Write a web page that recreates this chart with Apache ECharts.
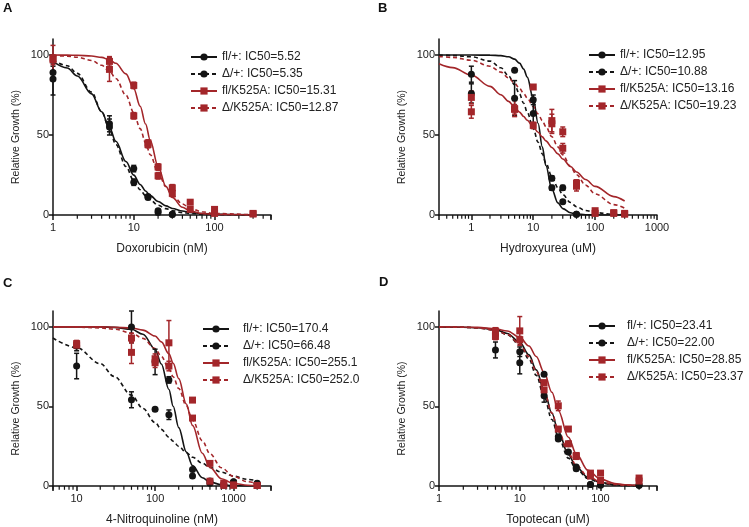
<!DOCTYPE html>
<html><head><meta charset="utf-8">
<script src="https://cdn.jsdelivr.net/npm/echarts@6/dist/echarts.min.js"></script>
<style>html,body{margin:0;padding:0;background:#fff}#c{width:749px;height:527px}</style>
</head><body><div id="c"></div><script>
// ---------- tick values ----------
const A_majorTicks = [1, 10, 100];
const A_minorTicks = [2,3,4,5,6,7,8,9,20,30,40,50,60,70,80,90,200,300,400,500];
const B_majorTicks = [1, 10, 100, 1000];
const B_minorTicks = [0.4,0.5,0.6,0.7,0.8,0.9,2,3,4,5,6,7,8,9,20,30,40,50,60,70,80,90,200,300,400,500,600,700,800,900];
const C_majorTicks = [10, 100, 1000];
const C_minorTicks = [5,6,7,8,9,20,30,40,50,60,70,80,90,200,300,400,500,600,700,800,900,2000,3000];
const D_majorTicks = [1, 10, 100];
const D_minorTicks = [2,3,4,5,6,7,8,9,20,30,40,50,60,70,80,90,200,300,400,500];
const yTicks = [0, 50, 100];

// ---------- legend names ----------
const A_names = ['fl/+: IC50=5.52', 'Δ/+: IC50=5.35', 'fl/K525A: IC50=15.31', 'Δ/K525A: IC50=12.87'];
const B_names = ['fl/+: IC50=12.95', 'Δ/+: IC50=10.88', 'fl/K525A: IC50=13.16', 'Δ/K525A: IC50=19.23'];
const C_names = ['fl/+: IC50=170.4', 'Δ/+: IC50=66.48', 'fl/K525A: IC50=255.1', 'Δ/K525A: IC50=252.0'];
const D_names = ['fl/+: IC50=23.41', 'Δ/+: IC50=22.00', 'fl/K525A: IC50=28.85', 'Δ/K525A: IC50=23.37'];

// ---------- Panel A: Doxorubicin ----------
const A_curveX = [1, 1.5, 2, 3, 4, 5, 6, 8, 10, 12, 14, 16, 20, 25, 30, 40, 50, 70, 100, 300];
const A_flWT_curve  = [96, 91.9, 86.9, 75.7, 64.5, 54.6, 46.1, 33.4, 24.9, 19.1, 15.0, 12.1, 8.4, 5.7, 4.1, 2.5, 1.6, 0.9, 0.45, 0.06];
const A_dWT_curve   = [97, 93.3, 88.5, 76.8, 64.6, 53.5, 44.1, 30.3, 21.5, 15.8, 12.0, 9.4, 6.1, 4.0, 2.7, 1.5, 1.0, 0.5, 0.23, 0.02];
const A_flKA_curve  = [100, 99.9, 99.8, 99.4, 98.5, 97, 94.8, 88.2, 78.9, 68.0, 56.9, 46.6, 30.4, 17.9, 11.0, 4.85, 2.5, 0.9, 0.3, 0];
const A_dKA_curve   = [99.7, 99.3, 98.6, 96.6, 93.6, 89.8, 85.3, 74.9, 64, 54.0, 45.2, 37.7, 26.6, 17.8, 12.5, 6.9, 4.2, 2.0, 0.9, 0.07];
const A_wtX   = [1, 5, 10, 15, 20, 30];
const A_flWT_y   = [89, 57, 29, 11.5, 2.7, 0.5];
const A_flWT_err = [4, 5, 2, 1, 1, 0.5];
const A_dWT_y    = [85, 55, 20.5, 11, 1.5, 0.3];
const A_dWT_err  = [10, 5, 2, 1, 1, 0.3];
const A_kaX   = [1, 5, 10, 15, 20, 30, 50, 100, 300];
const A_flKA_y   = [98, 96, 81, 45, 30, 17, 8, 3.5, 1];
const A_flKA_err = [8, 3, 2, 2, 2, 2, 1, 1, 0.5];
const A_dKA_y    = [97, 91, 62, 44, 24.5, 13.5, 3.5, 1, 0.6];
const A_dKA_err  = [3, 7.5, 2, 2, 2, 2, 1, 0.5, 0.5];

// ---------- Panel B: Hydroxyurea ----------
const B_curveX = [0.3, 0.5, 1, 2, 3, 4, 5, 6, 7, 8, 10, 12, 14, 16, 20, 25, 30, 40, 50, 70, 100, 200, 300];
const B_flWT_curve = [100, 100, 100, 99.9, 99.6, 98.9, 97.4, 94.9, 91.2, 86.2, 72.8, 57.2, 42.7, 30.9, 16.1, 7.6, 4.0, 1.4, 0.6, 0.16, 0.04, 0, 0];
const B_dWT_curve  = [99.9, 99.7, 98.9, 96.2, 92.0, 87.0, 81.4, 75.6, 69.8, 64.2, 54.0, 45.4, 38.3, 32.5, 23.9, 17.1, 12.7, 7.8, 5.2, 2.8, 1.5, 0.4, 0.2];
const B_flKA_curve = [94.5, 92.1, 87.4, 80.4, 75.2, 71.0, 67.4, 64.3, 61.6, 59.2, 55.1, 51.7, 48.8, 46.3, 42.2, 38.2, 35.0, 30.3, 26.9, 22.2, 17.9, 11.5, 8.75];
const B_dKA_curve  = [99.1, 98.5, 96.7, 93.0, 89.3, 85.7, 82.3, 79.1, 76.0, 73.1, 67.8, 63.1, 59.0, 55.2, 48.9, 42.6, 37.6, 30.3, 25.2, 18.7, 13.2, 6.5, 4.2];
const B_wtX = [1, 5, 10, 20, 30, 50];
const B_flWT_y   = [88, 90.5, 72, 17, 8.3, 0.5];
const B_flWT_err = [5, 1, 3, 1.5, 1, 0.5];
const B_dWT_y    = [76, 73, 63.5, 23, 17, 0.5];
const B_dWT_err  = [6, 11, 7, 1.5, 1.5, 0.5];
const B_kaX = [1, 5, 10, 20, 30, 50, 100, 200, 300];
const B_flKA_y   = [73.5, 66.5, 56, 57, 41.7, 18, 2.7, 1.5, 1];
const B_flKA_err = [4, 5, 2, 6, 3, 3, 1, 0.5, 0.5];
const B_dKA_y    = [64.5, 66, 80, 59, 52, 20, 1, 1, 0.5];
const B_dKA_err  = [4, 3, 1, 7, 3, 2, 0.5, 0.5, 0.5];

// ---------- Panel C: 4-Nitroquinoline ----------
const C_curveX = [5, 10, 20, 30, 50, 70, 100, 120, 150, 170, 200, 250, 300, 400, 500, 700, 1000, 1500, 2000];
const C_flWT_curve = [100, 100, 100, 99.7, 98.5, 95.4, 86.0, 76.7, 60.7, 50.1, 36.7, 21.4, 12.8, 5.2, 2.5, 0.8, 0.2, 0.05, 0];
const C_dWT_curve  = [93.0, 86.9, 76.9, 68.9, 57.1, 48.7, 39.9, 35.6, 30.7, 28.1, 24.9, 21.0, 18.1, 14.3, 11.7, 8.7, 6.2, 4.2, 3.2];
const C_flKA_curve = [100, 100, 100, 99.8, 99.3, 98.0, 94.3, 90.6, 83.1, 77.2, 67.5, 51.5, 38.1, 20.6, 11.7, 4.6, 1.6, 0.5, 0.2];
const C_dKA_curve  = [100, 99.8, 99.4, 98.6, 96.2, 92.8, 86.4, 81.5, 73.8, 68.7, 61.3, 50.4, 41.4, 28.4, 20.3, 11.5, 6.0, 2.7, 1.6];
const C_ptX = [10, 50, 100, 150, 300, 500, 750, 1000, 2000];
const C_flWT_y   = [88, 100, 78, 66.7, 10.4, 3.1, 0.8, 2.7, 1.7];
const C_flWT_err = [3, 10, 8, 2, 1, 1, 0.5, 0.5, 0.5];
const C_dWT_y    = [75.4, 54.2, 48.3, 44.8, 6.25, 1.7, 0.5, 2.5, 1.5];
const C_dWT_err  = [8, 5, 1, 3, 1, 0.5, 0.5, 0.5, 0.5];
const C_flKA_y   = [89.5, 93, 80, 90, 54, 14.2, 1.7, 0.6, 0.3];
const C_flKA_err = [2, 3, 3, 14, 1, 1, 0.5, 0.5, 0.3];
const C_dKA_y    = [88.5, 84, 77.5, 75.4, 42.7, 3, 0.4, 0.5, 0.3];
const C_dKA_err  = [2, 7, 3, 3, 1, 0.5, 0.4, 0.5, 0.3];

// ---------- Panel D: Topotecan ----------
const D_curveX = [1, 2, 3, 5, 7, 10, 13, 16, 20, 25, 30, 40, 50, 70, 100, 150, 200, 300];
const D_flWT_curve = [100, 99.8, 99.5, 98.3, 95.9, 90.3, 82.4, 73.0, 60.2, 45.7, 34.3, 19.7, 12.0, 5.4, 2.2, 0.8, 0.4, 0.1];
const D_dWT_curve  = [100, 99.8, 99.4, 97.9, 95.2, 88.6, 79.7, 69.6, 56.2, 41.8, 30.9, 17.5, 10.6, 4.7, 1.9, 0.7, 0.3, 0.1];
const D_flKA_curve = [100, 99.9, 99.7, 98.8, 97.4, 93.4, 88.0, 81.4, 71.4, 58.9, 47.5, 30.6, 20.2, 9.8, 4.3, 1.6, 0.8, 0.3];
const D_dKA_curve  = [100, 99.8, 99.4, 97.9, 95.3, 89.3, 81.2, 72.0, 59.6, 45.8, 34.9, 20.7, 13.0, 6.1, 2.6, 1.0, 0.5, 0.2];
const D_ptX = [5, 10, 20, 30, 40, 50, 75, 100, 300];
const D_flWT_y   = [95, 84.4, 70.2, 31, 26.5, 11.9, 1, 1, 0.4];
const D_flWT_err = [2, 3, 1, 1, 1, 1, 0.5, 0.5, 0.4];
const D_dWT_y    = [85.5, 77.5, 56.7, 29.6, 21.3, 10.8, 1, 0.4, 0.4];
const D_dWT_err  = [5, 7, 4, 1, 1, 1, 0.5, 0.4, 0.4];
const D_flKA_y   = [97.5, 97.5, 65, 50.4, 35.8, 19.2, 8.1, 8.1, 5];
const D_flKA_err = [2, 9, 1, 3, 1, 1, 1, 1, 1];
const D_dKA_y    = [94, 92, 60.4, 35.8, 26.5, 18.5, 6.25, 3.5, 3.1];
const D_dKA_err  = [2, 2, 1, 1, 1, 1, 1, 1, 1];

// ---------- styling ----------
const BLACK = '#141414', RED = '#a3262a';
const FONT = 'Liberation Sans, Arial, sans-serif';
const TXT = '#222';

const panels = [
  {letter:'A', xName:'Doxorubicin (nM)', min:1, max:500, major:A_majorTicks, minor:A_minorTicks, names:A_names,
   grid:{left:53, top:39, width:218, height:176}, legend:{left:190, top:51, pad:0}, letterPos:[3, 2],
   groups:[
    [A_curveX, A_flWT_curve, A_wtX, A_flWT_y, A_flWT_err],
    [A_curveX, A_dWT_curve,  A_wtX, A_dWT_y,  A_dWT_err],
    [A_curveX, A_flKA_curve, A_kaX, A_flKA_y, A_flKA_err],
    [A_curveX, A_dKA_curve,  A_kaX, A_dKA_y,  A_dKA_err]]},
  {letter:'B', xName:'Hydroxyurea (uM)', min:0.3, max:1000, major:B_majorTicks, minor:B_minorTicks, names:B_names,
   grid:{left:439, top:39, width:218, height:176}, legend:{left:588, top:49, pad:0}, letterPos:[378, 2],
   groups:[
    [B_curveX, B_flWT_curve, B_wtX, B_flWT_y, B_flWT_err],
    [B_curveX, B_dWT_curve,  B_wtX, B_dWT_y,  B_dWT_err],
    [B_curveX, B_flKA_curve, B_kaX, B_flKA_y, B_flKA_err],
    [B_curveX, B_dKA_curve,  B_kaX, B_dKA_y,  B_dKA_err]]},
  {letter:'C', xName:'4-Nitroquinoline (nM)', min:5, max:3000, major:C_majorTicks, minor:C_minorTicks, names:C_names,
   grid:{left:53, top:311, width:218, height:176}, legend:{left:202, top:323, pad:9}, letterPos:[3, 277],
   groups:[
    [C_curveX, C_flWT_curve, C_ptX, C_flWT_y, C_flWT_err],
    [C_curveX, C_dWT_curve,  C_ptX, C_dWT_y,  C_dWT_err],
    [C_curveX, C_flKA_curve, C_ptX, C_flKA_y, C_flKA_err],
    [C_curveX, C_dKA_curve,  C_ptX, C_dKA_y,  C_dKA_err]]},
  {letter:'D', xName:'Topotecan (uM)', min:1, max:500, major:D_majorTicks, minor:D_minorTicks, names:D_names,
   grid:{left:439, top:311, width:218, height:176}, legend:{left:588, top:320, pad:7}, letterPos:[379, 276],
   groups:[
    [D_curveX, D_flWT_curve, D_ptX, D_flWT_y, D_flWT_err],
    [D_curveX, D_dWT_curve,  D_ptX, D_dWT_y,  D_dWT_err],
    [D_curveX, D_flKA_curve, D_ptX, D_flKA_y, D_flKA_err],
    [D_curveX, D_dKA_curve,  D_ptX, D_dKA_y,  D_dKA_err]]}
];
const groupStyle = [
  {color:BLACK, dashed:false, symbol:'circle'},
  {color:BLACK, dashed:true,  symbol:'circle'},
  {color:RED,   dashed:false, symbol:'rect'},
  {color:RED,   dashed:true,  symbol:'rect'}
];

const grids = [], xAxes = [], yAxes = [], series = [], legends = [], titles = [];
panels.forEach((p, pi) => {
  grids.push(Object.assign({containLabel:false}, p.grid));
  titles.push({text:p.letter, left:p.letterPos[0], top:p.letterPos[1], padding:0,
    textStyle:{fontSize:13, fontWeight:'bold', color:'#111', fontFamily:FONT}});
  xAxes.push({type:'log', logBase:10, gridIndex:pi, min:p.min, max:p.max, position:'bottom',
    name:p.xName, nameLocation:'middle', nameGap:28,
    nameTextStyle:{fontSize:12, color:TXT, fontFamily:FONT},
    axisLine:{show:true, onZero:false, lineStyle:{color:BLACK, width:1.5}},
    axisTick:{show:true, length:5, lineStyle:{color:BLACK, width:1.5}},
    axisLabel:{show:true, fontSize:11, color:TXT, fontFamily:FONT, margin:7,
      formatter:v => (p.major.indexOf(v) >= 0 ? String(v) : '')},
    splitLine:{show:false}, minorTick:{show:false}});
  yAxes.push({type:'value', gridIndex:pi, min:0, max:110,
    name:'Relative Growth (%)', nameLocation:'middle', nameGap:31,
    nameTextStyle:{fontSize:10.5, color:TXT, fontFamily:FONT, padding:[0,20,0,0]},
    axisLine:{show:true, onZero:false, lineStyle:{color:BLACK, width:1.5}},
    axisTick:{show:true, customValues:yTicks, length:4, lineStyle:{color:BLACK, width:1.5}},
    axisLabel:{show:true, customValues:yTicks, fontSize:11, color:TXT, fontFamily:FONT, margin:4},
    splitLine:{show:false}});
  legends.push({data:p.names, orient:'vertical', left:p.legend.left, top:p.legend.top,
    itemWidth:26, itemHeight:9, itemGap:5, padding:0, selectedMode:false,
    textStyle:{fontSize:12, color:TXT, fontFamily:FONT, padding:[0,0,0,p.legend.pad]}});
  // minor log ticks, placed through the log axis scale
  series.push({type:'custom', name:p.letter + ' minor ticks', xAxisIndex:pi, yAxisIndex:pi, clip:false, silent:true, z:1,
    data:p.minor.map(v => [v, 0]), encode:{x:0, y:1},
    renderItem:(params, api) => {
      const c = api.coord([api.value(0), api.value(1)]);
      return {type:'line', shape:{x1:c[0], y1:c[1], x2:c[0], y2:c[1] + 3.8},
        style:{stroke:BLACK, lineWidth:1.2}};
    }});
  p.groups.forEach((g, gi) => {
    const st = groupStyle[gi];
    const [cx, cy, px, py, pe] = g;
    series.push({type:'line', name:p.names[gi], xAxisIndex:pi, yAxisIndex:pi,
      data:cx.map((x, i) => [x, cy[i]]), smooth:0.35, smoothMonotone:'x',
      showSymbol:false, symbol:st.symbol, symbolSize:7, z:2, silent:true,
      lineStyle:{color:st.color, width:1.6, type: st.dashed ? [4, 3] : 'solid'},
      itemStyle:{color:st.color}});
    series.push({type:'custom', name:p.names[gi] + ' err', xAxisIndex:pi, yAxisIndex:pi, z:3, silent:true,
      data:px.map((x, i) => [x, py[i], pe[i]]), encode:{x:0, y:1},
      renderItem:(params, api) => {
        const x = api.value(0), y = api.value(1), e = api.value(2);
        const t = api.coord([x, y + e]), b = api.coord([x, Math.max(0, y - e)]);
        const s = {stroke:st.color, lineWidth:1.5};
        return {type:'group', children:[
          {type:'line', shape:{x1:t[0], y1:t[1], x2:b[0], y2:b[1]}, style:s},
          {type:'line', shape:{x1:t[0]-2.5, y1:t[1], x2:t[0]+2.5, y2:t[1]}, style:s},
          {type:'line', shape:{x1:b[0]-2.5, y1:b[1], x2:b[0]+2.5, y2:b[1]}, style:s}
        ]};
      }});
    series.push({type:'scatter', name:p.names[gi] + ' pts', xAxisIndex:pi, yAxisIndex:pi, z:4, silent:true,
      data:px.map((x, i) => [x, py[i]]), symbol:st.symbol, symbolSize:7,
      itemStyle:{color:st.color, opacity:1}});
  });
});

const chart = echarts.init(document.getElementById('c'), null, {renderer:'canvas'});
chart.setOption({
  animation:false, backgroundColor:'#fff',
  textStyle:{fontFamily:FONT},
  title:titles, grid:grids, xAxis:xAxes, yAxis:yAxes, legend:legends, series:series
});
</script></body></html>
